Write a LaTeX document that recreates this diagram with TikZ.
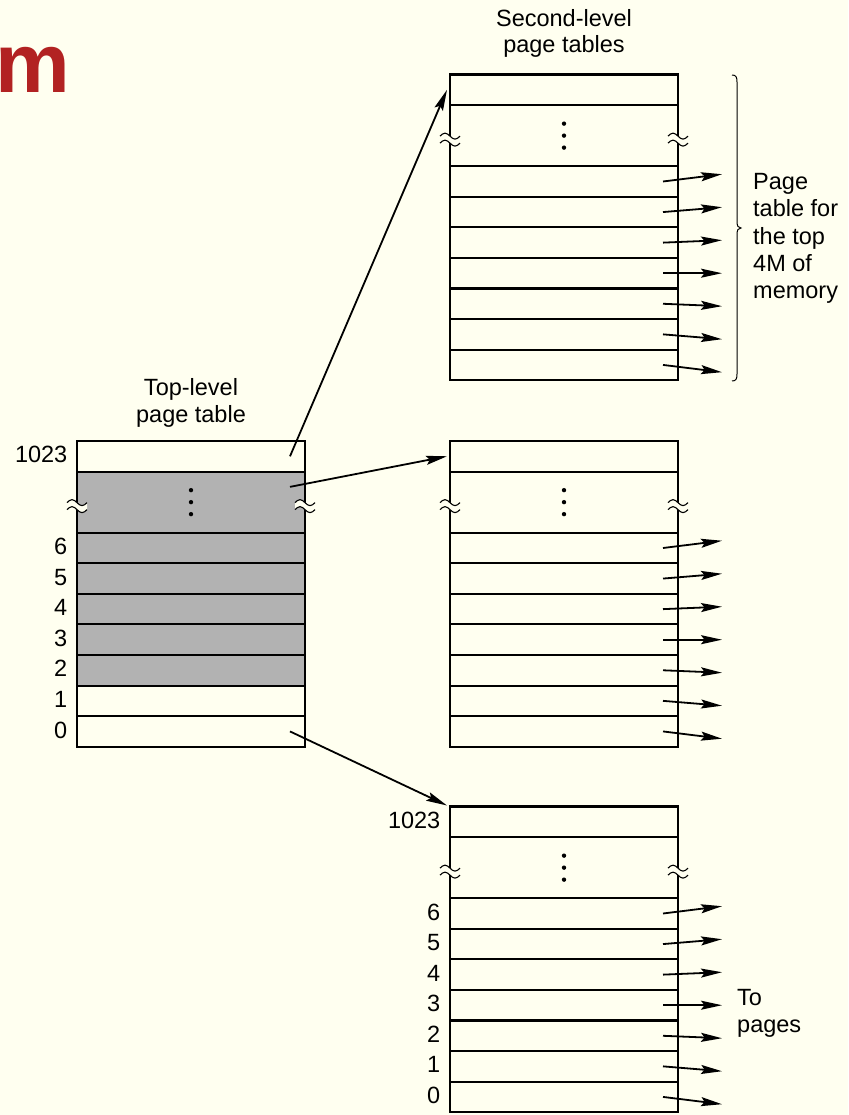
\documentclass[tikz,border=0pt]{standalone}
\usepackage{fontspec}
\setmainfont{Liberation Sans}
\usetikzlibrary{arrows.meta}
\definecolor{bg}{HTML}{FFFFF0}
\definecolor{cellgray}{HTML}{B2B2B2}
\definecolor{titlered}{RGB}{178,34,34}
\def\rh{30.57}
\tikzset{
  tbl/.style={line width=2.1pt, draw=black},
  conn/.style={line width=1.8pt, draw=black, -{Stealth[length=21pt,width=9pt,inset=3.5pt]}},
  lbl/.style={font=\fontsize{23.5}{27}\selectfont, inner sep=0pt, text=black},
  titlefont/.style={font=\fontsize{84}{90}\selectfont\bfseries, inner sep=0pt, text=titlered},
  bracestyle/.style={line width=1pt, draw=black},
  brk/.pic={
    \fill[bg] (-10,-3.5) sin (-5,-6.5) cos (0,-3.5) sin (5,-0.5) cos (10,-3.5) -- (10,3.5)
      sin (5,6.5) cos (0,3.5) sin (-5,0.5) cos (-10,3.5) -- cycle;
    \draw[line width=1.1pt] (-10,-3.5) sin (-5,-6.5) cos (0,-3.5) sin (5,-0.5) cos (10,-3.5);
    \draw[line width=1.1pt] (-10,3.5) sin (-5,0.5) cos (0,3.5) sin (5,6.5) cos (10,3.5);
  }
}
% #1 name, #2 x, #3 y, #4 shaded (1/0)
\newcommand\pgtable[4]{%
  \begin{scope}[shift={(#2,#3)}]
    \ifnum#4=1 \fill[cellgray] (0,\rh) rectangle (228,8*\rh);\fi
    \foreach \k in {1,3,4,5,6,7,8,9} \draw[tbl] (0,\k*\rh) -- (228,\k*\rh);
    \draw[tbl] (0,0) rectangle (228,10*\rh);
    \foreach \d in {-12,0,12} \fill[black] (114,2*\rh+\d) circle[radius=2.2];
    \pic at (0,2*\rh+4) {brk};
    \pic at (228,2*\rh+4) {brk};
    \foreach \i in {0,...,9} {
      \coordinate (#1-s\i) at (213,{(\i+0.5)*\rh});
      \coordinate (#1-e\i) at (272,{6.5*\rh+(\i-6)*33});
    }
    \coordinate (#1-in) at (-3,0.5*\rh);
    \coordinate (#1-corner) at (-3,-1);
  \end{scope}}
\newcommand\pglabels[3]{%
  \begin{scope}[shift={(#2,#3)}]
    \foreach \i/\t in {0/1023,3/6,4/5,5/4,6/3,7/2,8/1,9/0}
      \node[lbl, anchor=east] (#1-l\i) at (-9.5,{(\i+0.5)*\rh-1.5}) {\t};
  \end{scope}}
\begin{document}
\begin{tikzpicture}[x=1pt,y=-1pt]
\useasboundingbox (0,0) rectangle (848,1115);
\fill[bg] (0,0) rectangle (848,1115);

\node[titlefont, anchor=base east] (title) at (70,93) {m};

% titles
\node[lbl, anchor=base] (sl1) at (564,27) {Second-level};
\node[lbl, anchor=base] (sl2) at (564,53) {page tables};
\node[lbl, anchor=base] (tl1) at (191,395) {Top-level};
\node[lbl, anchor=base] (tl2) at (191,422) {page table};

% tables
\pgtable{T}{77}{441}{1}
\pglabels{T}{77}{441}
\pgtable{A}{450}{74.5}{0}
\pgtable{B}{450}{441}{0}
\pgtable{C}{450}{806.5}{0}
\pglabels{C}{450}{806.5}

% top-level pointers
\draw[conn] (T-s0) -- (A-in);
\draw[conn] (T-s1) -- (B-in);
\draw[conn] (T-s9) -- (C-corner);

% pointers to pages
\foreach \t in {A,B,C}
  \foreach \i in {3,...,9}
    \draw[conn] (\t-s\i) -- (\t-e\i);

% brace
\draw[bracestyle] (732,75) .. controls (736,75) and (737,77) .. (737,82) -- (737,221)
  .. controls (737,226) and (738,228) .. (741,228)
  .. controls (738,228) and (737,230) .. (737,235) -- (737,374)
  .. controls (737,379) and (736,381) .. (732,381);

\node[lbl, anchor=base west] (bl1) at (753,190) {Page};
\node[lbl, anchor=base west] (bl2) at (753,217) {table for};
\node[lbl, anchor=base west] (bl3) at (753,244) {the top};
\node[lbl, anchor=base west] (bl4) at (753,271) {4M of};
\node[lbl, anchor=base west] (bl5) at (753,298) {memory};

\node[lbl, anchor=base west] (tp1) at (737,1005) {To};
\node[lbl, anchor=base west] (tp2) at (737,1032) {pages};
\end{tikzpicture}
\end{document}
